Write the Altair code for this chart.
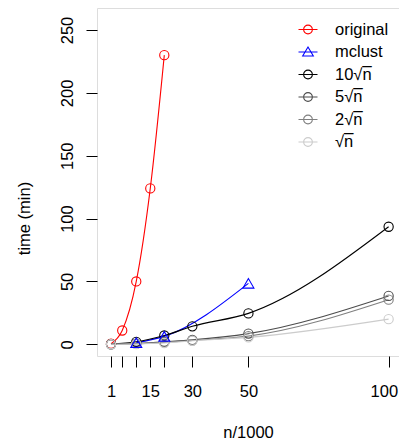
import altair as alt
import pandas as pd

# ---- data ----
series_names = ["original", "mclust", "10√n̅", "5√n̅", "2√n̅", "√n̅"]
series_colors = ["#ff0000", "#0000ff", "#000000", "#4d4d4d", "#808080", "#cccccc"]

x_original = [1, 5, 10, 15, 20]
y_original = [0.5, 11, 50, 124, 230]

x_mclust = [10, 20, 50]
y_mclust = [1.3, 6.3, 48.5]

x_sqrt = [1, 10, 20, 30, 50, 100]
y_10sqrt = [0.1, 2, 7, 14.3, 24.6, 93.5]
y_5sqrt = [0.05, 0.6, 2, 3.5, 8.5, 38.5]
y_2sqrt = [0.03, 0.4, 1.5, 3, 6.5, 35.5]
y_1sqrt = [0.02, 0.2, 1, 2.8, 5.5, 20]

x_ticks = [1, 5, 10, 15, 20, 30, 50, 100]
x_tick_labels_shown = [1, 15, 30, 50, 100]
y_ticks = [0, 50, 100, 150, 200, 250]

rows = []
for name, xs, ys in zip(
    series_names,
    [x_original, x_mclust, x_sqrt, x_sqrt, x_sqrt, x_sqrt],
    [y_original, y_mclust, y_10sqrt, y_5sqrt, y_2sqrt, y_1sqrt],
):
    for xv, yv in zip(xs, ys):
        rows.append({"series": name, "n": xv, "time": yv})
df = pd.DataFrame(rows)

FONT = "Liberation Sans"
FS = 16.5

circle_path = "M-1,0H1M-0.46,0A0.46,0.46 0 1,0 0.46,0A0.46,0.46 0 1,0 -0.46,0"
tri_path = "M-1,0H1M0,-0.52L0.56,0.42L-0.56,0.42Z"
legend_shapes = [circle_path, tri_path, circle_path, circle_path, circle_path, circle_path]

legend = alt.Legend(
    title=None,
    orient="none",
    legendX=200.5,
    legendY=11,
    padding=0,
    symbolSize=361,
    symbolStrokeWidth=1.1,
    symbolFillColor="transparent",
    symbolOpacity=1,
    labelFont=FONT,
    labelFontSize=FS,
    labelColor="black",
    labelOffset=16.5,
    rowPadding=3.5,
)

color_scale = alt.Scale(domain=series_names, range=series_colors)
color_enc = alt.Color("series:N", scale=color_scale, legend=legend, sort=series_names)

x_enc = alt.X(
    "n:Q",
    scale=alt.Scale(domain=[-4, 103.7], nice=False, zero=False),
    axis=alt.Axis(
        title="n/1000",
        values=x_ticks,
        labelExpr="indexof(" + str(x_tick_labels_shown) + ", datum.value) >= 0 ? datum.label : ''",
        domain=False,
        grid=False,
        ticks=True,
        tickSize=11,
        tickColor="black",
        tickWidth=1,
        labelFont=FONT,
        labelFontSize=FS,
        labelColor="black",
        labelBaseline="alphabetic",
        labelPadding=29.7,
        labelOverlap=False,
        labelFlush=12,
        labelFlushOffset=9,
        titleFont=FONT,
        titleFontSize=FS,
        titleFontWeight="normal",
        titleColor="black",
        titleBaseline="alphabetic",
        titleY=81,
    ),
)

y_enc = alt.Y(
    "time:Q",
    scale=alt.Scale(domain=[-9.3, 267.5], nice=False, zero=False),
    axis=alt.Axis(
        title="time (min)",
        values=y_ticks,
        domain=False,
        grid=False,
        tickSize=11,
        tickColor="black",
        tickWidth=1,
        labelFont=FONT,
        labelFontSize=FS,
        labelColor="black",
        labelAngle=270,
        labelAlign="center",
        labelBaseline="alphabetic",
        labelPadding=14,
        labelOverlap=False,
        labelFlush=False,
        titleFont=FONT,
        titleFontSize=FS,
        titleFontWeight="normal",
        titleColor="black",
        titleAngle=270,
        titleAlign="center",
        titleBaseline="alphabetic",
        titleX=-67.5,
        titleY=210,
    ),
)

base = alt.Chart(df)

lines = base.mark_line(interpolate="monotone", strokeWidth=1.1).encode(
    x=x_enc,
    y=y_enc,
    color=color_enc,
    detail="series:N",
    order="n:Q",
)

circles = base.transform_filter(alt.datum.series != "mclust").mark_point(
    filled=False, strokeWidth=1.1, opacity=1, shape="circle", size=85
).encode(x=x_enc, y=y_enc, color=color_enc)

triangles = base.transform_filter(alt.datum.series == "mclust").mark_point(
    filled=False, strokeWidth=1.1, opacity=1, shape="triangle-up", size=120
).encode(x=x_enc, y=y_enc, color=color_enc)

legend_layer = base.transform_filter("false").mark_point(
    filled=False, strokeWidth=1.1, opacity=1
).encode(
    x=x_enc,
    y=y_enc,
    color=color_enc,
    shape=alt.Shape(
        "series:N",
        scale=alt.Scale(domain=series_names, range=legend_shapes),
        legend=legend,
        sort=series_names,
    ),
)

chart = (
    alt.layer(lines, circles, triangles, legend_layer)
    .properties(
        width=302,
        height=348,
        padding={"left": 89, "top": 0, "right": 0, "bottom": 83},
        autosize=alt.AutoSizeParams(type="none"),
    )
    .configure_view(stroke="black", strokeWidth=1)
    .configure(background="white")
)

chart.save("out.html", embed_options={"renderer": "svg", "actions": False})
